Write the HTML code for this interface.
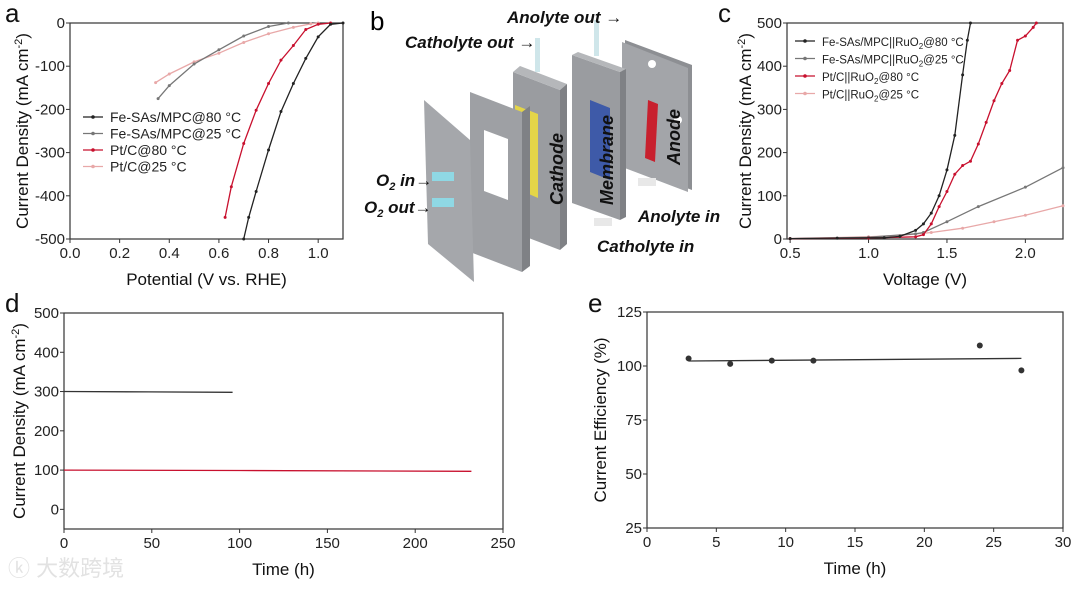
<!DOCTYPE html>
<html><head><meta charset="utf-8"><style>
body{margin:0;background:#fff;width:1080px;height:584px;overflow:hidden;font-family:"Liberation Sans","Noto Sans CJK SC",sans-serif}
svg text{font-family:"Liberation Sans","Noto Sans CJK SC",sans-serif}
</style></head><body>
<svg id="fig" width="1080" height="584" viewBox="0 0 1080 584">
<g id="schematic">
 <text x="370" y="30" font-size="26">b</text>
 <polygon points="625,40 692,65 692,190 625,165" fill="#8d8f93"/>
 <polygon points="622,42 688,68 688,192 622,167" fill="#a3a5a9"/>
 <circle cx="652" cy="64" r="4" fill="#fff"/><circle cx="678" cy="120" r="4" fill="#fff"/>
 <polygon points="648,100 658,104 655,162 645,158" fill="#c8202e"/>
 <polygon points="572,55 620,72 620,220 572,203" fill="#9a9ca0"/>
 <polygon points="572,55 578,52 626,69 620,72" fill="#b5b7ba"/>
 <polygon points="620,72 626,69 626,217 620,220" fill="#7f8185"/>
 <polygon points="590,100 610,108 610,180 590,172" fill="#3e5aa8"/>
 <rect x="594" y="20" width="5" height="36" fill="#cfe6ea"/>
 <polygon points="513,72 560,90 560,250 513,232" fill="#9a9ca0"/>
 <polygon points="513,72 520,66 567,84 560,90" fill="#b5b7ba"/>
 <polygon points="560,90 567,84 567,244 560,250" fill="#7f8185"/>
 <polygon points="515,105 538,114 538,198 515,188" fill="#e4d548"/>
 <rect x="535" y="38" width="5" height="34" fill="#cfe6ea"/>
 <polygon points="470,92 522,112 522,272 470,252" fill="#9ea0a4"/>
 <polygon points="522,112 530,106 530,266 522,272" fill="#7f8185"/>
 <polygon points="484,130 508,139 508,200 484,191" fill="#fff"/>
 <polygon points="424,100 470,140 474,282 428,244" fill="#a5a7ab"/>
 <rect x="432" y="172" width="22" height="9" fill="#8fd8e4"/><rect x="432" y="198" width="22" height="9" fill="#8fd8e4"/>
 <rect x="594" y="218" width="18" height="8" fill="#e8e8e8"/><rect x="638" y="178" width="18" height="8" fill="#e8e8e8"/>
 <g font-style="italic" font-weight="bold" fill="#111">
  <text x="507" y="23" font-size="17">Anolyte out →</text>
  <text x="405" y="48" font-size="17">Catholyte out →</text>
  <text x="376" y="186" font-size="17">O<tspan font-size="11" dy="4">2</tspan><tspan dy="-4"> in→</tspan></text>
  <text x="364" y="213" font-size="17">O<tspan font-size="11" dy="4">2</tspan><tspan dy="-4"> out→</tspan></text>
  <text x="638" y="222" font-size="17">Anolyte in</text>
  <text x="597" y="252" font-size="17">Catholyte in</text>
  <text transform="translate(563,205) rotate(-90)" font-size="18">Cathode</text>
  <text transform="translate(613,205) rotate(-90)" font-size="18">Membrane</text>
  <text transform="translate(680,165) rotate(-90)" font-size="18">Anode</text>
 </g>
</g>
<text x="8" y="576" font-size="22" fill="#e2e2e2">ⓚ 大数跨境</text>
</svg>
<script>
const NS='http://www.w3.org/2000/svg';
const fig=document.getElementById('fig');
function mk(tag,attrs,parent){const e=document.createElementNS(NS,tag);for(const k in attrs)e.setAttribute(k,attrs[k]);(parent||fig).appendChild(e);return e;}

const aXTicks=[0.0,0.2,0.4,0.6,0.8,1.0];
const aYTicks=[0,-100,-200,-300,-400,-500];
const aFe80X=[1.1,1.05,1.0,0.95,0.9,0.85,0.8,0.75,0.72,0.70];
const aFe80Y=[0,-3,-32,-82,-140,-205,-294,-390,-450,-500];
const aPt80X=[1.05,1.0,0.95,0.9,0.85,0.8,0.75,0.7,0.65,0.625];
const aPt80Y=[0,-3,-15,-52,-86,-140,-202,-279,-379,-450];
const aFe25X=[0.88,0.8,0.7,0.6,0.5,0.4,0.355];
const aFe25Y=[0,-8,-30,-62,-95,-145,-175];
const aPt25X=[1.0,0.97,0.9,0.8,0.7,0.6,0.5,0.4,0.345];
const aPt25Y=[0,-2,-10,-25,-45,-70,-90,-118,-138];
const cXTicks=[0.5,1.0,1.5,2.0];
const cYTicks=[0,100,200,300,400,500];
const cFe80X=[0.5,0.8,1.1,1.2,1.3,1.35,1.4,1.45,1.5,1.55,1.6,1.63,1.65];
const cFe80Y=[1,2,3,6,20,35,60,100,160,240,380,460,500];
const cFe25X=[0.5,1.0,1.3,1.35,1.5,1.7,2.0,2.24];
const cFe25Y=[1,4,12,15,40,75,120,165];
const cPt80X=[0.5,1.0,1.3,1.35,1.4,1.45,1.5,1.55,1.6,1.65,1.7,1.75,1.8,1.85,1.9,1.95,2.0,2.05,2.07];
const cPt80Y=[1,2,5,10,35,75,110,150,170,180,220,270,320,360,390,460,470,490,500];
const cPt25X=[0.5,1.0,1.2,1.4,1.6,1.8,2.0,2.24];
const cPt25Y=[1,5,8,15,25,40,55,77];
const dXTicks=[0,50,100,150,200,250];
const dYTicks=[0,100,200,300,400,500];
const dBlackX=[0,48,96];
const dBlackY=[300,299,298];
const dRedX=[0,100,232];
const dRedY=[100,99,97];
const eXTicks=[0,5,10,15,20,25,30];
const eYTicks=[25,50,75,100,125];
const eTimes=[3,6,9,12,24,27];
const eEff=[103.5,101,102.5,102.5,109.5,98];
const eFitX=[3,27];
const eFitY=[102.3,103.5];

function panel(o){
  const g=mk('g',{});
  
  
  const sx=v=>o.x0+(v-o.xmin)/(o.xmax-o.xmin)*(o.x1-o.x0);
  const sy=v=>o.y1-(v-o.ymin)/(o.ymax-o.ymin)*(o.y1-o.y0);
  const fr=mk('rect',{x:o.x0,y:o.y0,width:o.x1-o.x0,height:o.y1-o.y0,fill:'none',stroke:'#333','stroke-width':1.2},g);
  
  
  o.xt.forEach(v=>{const X=sx(v);mk('line',{x1:X,x2:X,y1:o.y1,y2:o.y1+4,stroke:'#333'},g);
    const t=mk('text',{x:X,y:o.y1+19,'font-size':15,'text-anchor':'middle',fill:'#222'},g);t.textContent=o.xf(v);
    
    });
  o.yt.forEach(v=>{const Y=sy(v);mk('line',{x1:o.x0-4,x2:o.x0,y1:Y,y2:Y,stroke:'#333'},g);
    const t=mk('text',{x:o.x0-5,y:Y+5,'font-size':15,'text-anchor':'end',fill:'#222'},g);t.textContent=o.yf(v);
    
    });
  const xt=mk('text',{x:(o.x0+o.x1)/2,y:o.y1+46,'font-size':17,'text-anchor':'middle',fill:'#111'},g);xt.textContent=o.xl;
  
  
  const yt=mk('text',{transform:`translate(${o.ylx},${(o.y0+o.y1)/2}) rotate(-90)`,'font-size':17,'text-anchor':'middle',fill:'#111'},g);yt.innerHTML=o.yl;
  
  
  const pl=mk('text',{x:o.lx,y:o.ly,'font-size':26,fill:'#111'},g);pl.textContent=o.letter;
  
  
  return {g,sx,sy};
}
function series(p,xs,ys,color,name,marker){
  const d=xs.map((x,i)=>(i?'L':'M')+p.sx(x).toFixed(1)+','+p.sy(ys[i]).toFixed(1)).join('');
  const path=mk('path',{d,fill:'none',stroke:color,'stroke-width':1.3},p.g);
  
  
  if(marker){xs.forEach((x,i)=>{mk('circle',{cx:p.sx(x),cy:p.sy(ys[i]),r:1.5,fill:color},p.g);});}
}
const ylab='Current Density (mA cm<tspan dy="-6" font-size="11">-2</tspan><tspan dy="6">)</tspan>';
const pa=panel({name:'panel-a-lsv',x0:70,x1:343,y0:23,y1:239,xmin:0,xmax:1.1,ymin:-500,ymax:0,xt:aXTicks,yt:aYTicks,xf:v=>v.toFixed(1),yf:v=>v,xl:'Potential (V vs. RHE)',yl:ylab,ylx:28,letter:'a',lx:5,ly:22});
series(pa,aPt25X,aPt25Y,'#e8a8a8','series-ptc-25',true);
series(pa,aFe25X,aFe25Y,'#777','series-fe-25',true);
series(pa,aPt80X,aPt80Y,'#c8102e','series-ptc-80',true);
series(pa,aFe80X,aFe80Y,'#222','series-fe-80',true);
const pc=panel({name:'panel-c-polarization',x0:787,x1:1063,y0:23,y1:239,xmin:0.48,xmax:2.24,ymin:0,ymax:500,xt:cXTicks,yt:cYTicks,xf:v=>v.toFixed(1),yf:v=>v,xl:'Voltage (V)',yl:ylab,ylx:751,letter:'c',lx:718,ly:22});
series(pc,cPt25X,cPt25Y,'#e8a8a8','series-ptc-ruo2-25',true);
series(pc,cFe25X,cFe25Y,'#777','series-fe-ruo2-25',true);
series(pc,cPt80X,cPt80Y,'#c8102e','series-ptc-ruo2-80',true);
series(pc,cFe80X,cFe80Y,'#222','series-fe-ruo2-80',true);
const pd=panel({name:'panel-d-stability',x0:64,x1:503,y0:313,y1:529,xmin:0,xmax:250,ymin:-50,ymax:500,xt:dXTicks,yt:dYTicks,xf:v=>v,yf:v=>v,xl:'Time (h)',yl:ylab,ylx:25,letter:'d',lx:5,ly:312});
series(pd,dBlackX,dBlackY,'#333','series-fe-stability',false);
series(pd,dRedX,dRedY,'#c8102e','series-ptc-stability',false);
const pe=panel({name:'panel-e-efficiency',x0:647,x1:1063,y0:312,y1:528,xmin:0,xmax:30,ymin:25,ymax:125,xt:eXTicks,yt:eYTicks,xf:v=>v,yf:v=>v,xl:'Time (h)',yl:'Current Efficiency (%)',ylx:606,letter:'e',lx:588,ly:312});
series(pe,eFitX,eFitY,'#333','efficiency-fit-line',false);
eTimes.forEach((t,i)=>{const c=mk('circle',{cx:pe.sx(t),cy:pe.sy(eEff[i]),r:3,fill:'#333'},pe.g);
  
  });
function legend(items,x,y,dy,fs){items.forEach((it,i)=>{const Y=y+i*dy;
  mk('line',{x1:x,x2:x+20,y1:Y,y2:Y,stroke:it[1],'stroke-width':1.3});
  mk('circle',{cx:x+10,cy:Y,r:1.8,fill:it[1]});
  const t=mk('text',{x:x+27,y:Y+5,'font-size':fs,fill:'#222'});t.innerHTML=it[0];
  
  });}
legend([['Fe-SAs/MPC@80 °C','#222'],['Fe-SAs/MPC@25 °C','#777'],['Pt/C@80 °C','#c8102e'],['Pt/C@25 °C','#e8a8a8']],83,117,16.5,14);
const sub='RuO<tspan dy="3" font-size="8">2</tspan><tspan dy="-3">';
legend([['Fe-SAs/MPC||'+sub+'@80 °C</tspan>','#222'],['Fe-SAs/MPC||'+sub+'@25 °C</tspan>','#777'],['Pt/C||'+sub+'@80 °C</tspan>','#c8102e'],['Pt/C||'+sub+'@25 °C</tspan>','#e8a8a8']],795,41,17.5,11.5);
</script>
</body></html>
